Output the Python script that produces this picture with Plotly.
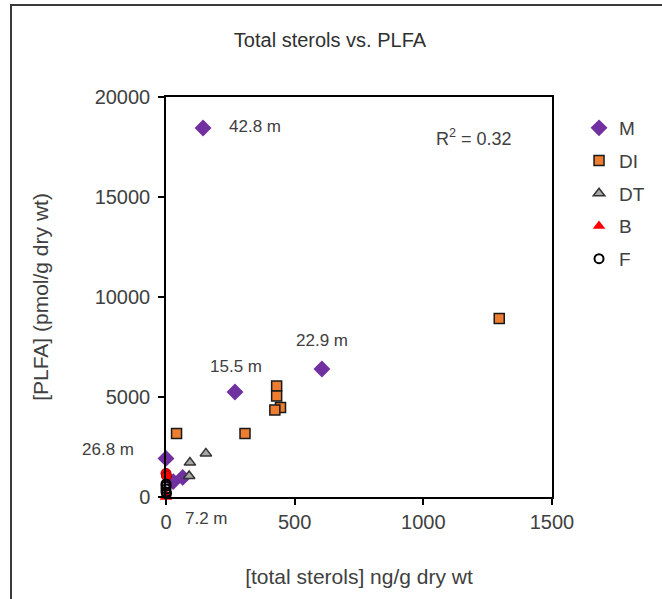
import plotly.graph_objects as go

# total sterols (ng/g dry wt) and PLFA (pmol/g dry wt) by group
m_sterols = [0, 28, 65, 268, 606, 144]
m_plfa = [1930, 770, 980, 5250, 6400, 18450]
m_depth = ["26.8 m", "7.2 m", "", "15.5 m", "22.9 m", "42.8 m"]

di_sterols = [430, 430, 445, 423, 307, 41, 1295]
di_plfa = [5550, 5050, 4480, 4350, 3180, 3180, 8930]

dt_sterols = [155, 93, 90]
dt_plfa = [2180, 1720, 1050]

b_sterols = [0, 2]
b_plfa = [0, 60]
b_extra_sterols = [0, 2]
b_extra_plfa = [1180, 1050]

f_sterols = [0, 0, 0, 0, 2]
f_plfa = [250, 400, 550, 650, 180]

x_ticks = [0, 500, 1000, 1500]
y_ticks = [0, 5000, 10000, 15000, 20000]

# label offsets (px) relative to each M point
label_shift = {
    "26.8 m": (-58, 9),
    "7.2 m": (33, -37),
    "15.5 m": (1, 26),
    "22.9 m": (0, 29),
    "42.8 m": (52, 2),
}

FONT = "Liberation Sans, Arial, sans-serif"
TXT = "#404040"

fig = go.Figure()

fig.add_trace(go.Scatter(
    x=m_sterols, y=m_plfa, mode="markers", name="M", legendgroup="M",
    marker=dict(symbol="diamond", size=13, color="#7030A0", line=dict(width=0)),
    cliponaxis=False,
))
fig.add_trace(go.Scatter(
    x=di_sterols, y=di_plfa, mode="markers", name="DI", legendgroup="DI",
    marker=dict(symbol="square", size=10, color="#ED7D31", line=dict(width=1.5, color="#1a1a1a")),
    cliponaxis=False,
))
fig.add_trace(go.Scatter(
    x=dt_sterols, y=dt_plfa, mode="markers", name="DT", legendgroup="DT",
    marker=dict(symbol="triangle-up", size=10, color="#a6a6a6", line=dict(width=1.5, color="#333333")),
    cliponaxis=False,
))
fig.add_trace(go.Scatter(
    x=b_extra_sterols, y=b_extra_plfa, mode="markers", name="B", legendgroup="B",
    showlegend=False,
    marker=dict(symbol="circle", size=10, color="#FF0000", line=dict(width=1, color="#a00000")),
    cliponaxis=False,
))
fig.add_trace(go.Scatter(
    x=b_sterols, y=b_plfa, mode="markers", name="B", legendgroup="B",
    marker=dict(symbol="triangle-up", size=11, color="#FF0000", line=dict(width=0)),
    cliponaxis=False,
))
fig.add_trace(go.Scatter(
    x=f_sterols, y=f_plfa, mode="markers", name="F", legendgroup="F",
    marker=dict(symbol="circle-open", size=9, color="#000000", line=dict(width=2)),
    cliponaxis=False,
))

for xs, ys, lab in zip(m_sterols, m_plfa, m_depth):
    if not lab:
        continue
    dx, dy = label_shift[lab]
    fig.add_annotation(x=xs, y=ys, text=lab, showarrow=False, xshift=dx, yshift=dy,
                       xanchor="center", font=dict(family=FONT, size=17, color=TXT))

fig.add_annotation(xref="paper", yref="paper", x=0.797, y=0.9, text="R<sup>2</sup> = 0.32",
                   xanchor="center", yanchor="middle",
                   showarrow=False, font=dict(family=FONT, size=18, color=TXT))

# outer chart frame
W, H = 662, 599
L, R, T, B = 166, 110, 97, 102
pw, ph = W - L - R, H - T - B
def px_to_paper(px, py):
    return (px - L) / pw, (H - B - py) / ph
x0, y1 = px_to_paper(11, 5)
x1, y0 = px_to_paper(700, 640)
fig.add_shape(type="rect", xref="paper", yref="paper", x0=x0, x1=x1, y0=y0, y1=y1,
              line=dict(color="#3a3a3a", width=2), layer="below")

axis_common = dict(
    showgrid=False, zeroline=False, showline=True, linecolor="#000000", linewidth=1.5,
    mirror=True, ticks="outside", ticklen=6, tickcolor="#000000", tickwidth=1.5,
    tickformat="d",
    tickfont=dict(family=FONT, size=20, color=TXT),
)

fig.update_layout(
    width=W, height=H,
    margin=dict(l=L, r=R, t=T, b=B),
    paper_bgcolor="white", plot_bgcolor="white",
    title=dict(text="Total sterols vs. PLFA", x=330 / W, xanchor="center",
               y=1 - 40 / H, yanchor="middle",
               font=dict(family=FONT, size=20, color="#303030")),
    xaxis=dict(range=[0, 1500], tickvals=x_ticks,
               title=dict(text="[total sterols] ng/g dry wt", standoff=38,
                          font=dict(family=FONT, size=21, color=TXT)),
               **axis_common),
    yaxis=dict(range=[0, 20000], tickvals=y_ticks, ticklabelstandoff=4,
               title=dict(text="[PLFA] (pmol/g dry wt)", standoff=40,
                          font=dict(family=FONT, size=21, color=TXT)),
               **axis_common),
    legend=dict(x=1.07, y=0.97, xanchor="left", yanchor="top",
                font=dict(family=FONT, size=19, color=TXT),
                tracegroupgap=5, bgcolor="rgba(0,0,0,0)"),
    showlegend=True,
)

fig.write_html("out.html")
